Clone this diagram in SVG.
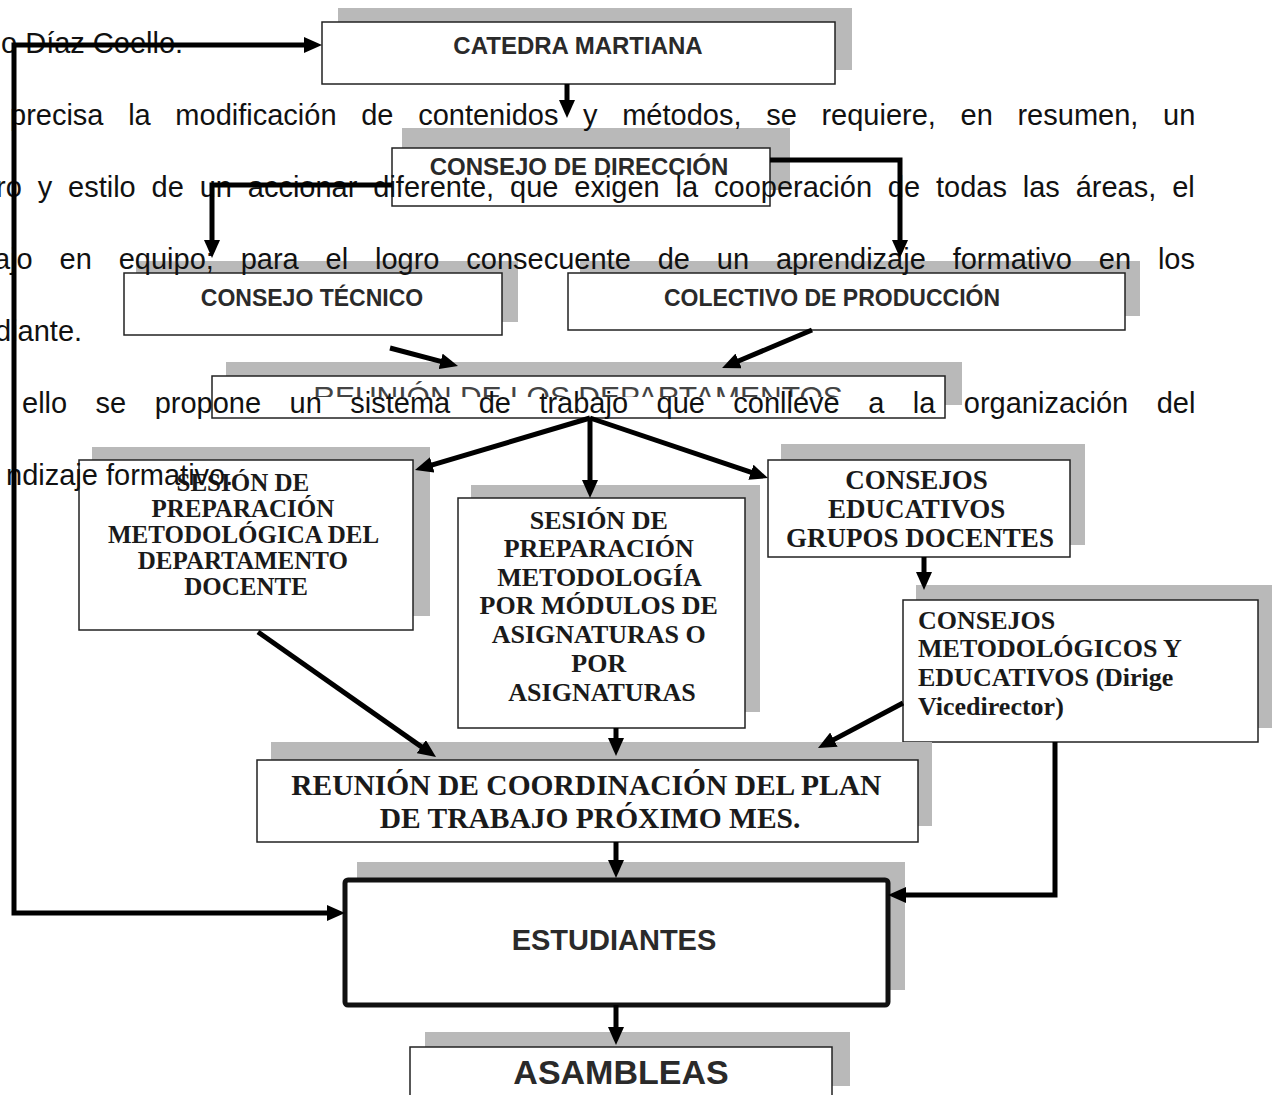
<svg xmlns="http://www.w3.org/2000/svg" width="1275" height="1095" viewBox="0 0 1275 1095">
<style>
.sh{fill:#b9b9b9}
.bx{fill:#fff;stroke:#222;stroke-width:1.5}
.sans{font-family:"Liberation Sans",Arial,sans-serif;font-weight:bold;fill:#2a2a2a;text-anchor:middle}
.serif{font-family:"Liberation Serif","Times New Roman",serif;font-weight:bold;fill:#1a1a1a}
.mid{text-anchor:middle}
.body{font-family:"Liberation Sans",Arial,sans-serif;font-size:29px;fill:#111}
.cn{fill:none;stroke:#000;stroke-width:5;marker-end:url(#ah)}
</style>
<defs>
<marker id="ah" markerUnits="userSpaceOnUse" markerWidth="18" markerHeight="16" refX="6" refY="8" orient="auto-start-reverse">
<path d="M0,0 L18,8 L0,16 z" fill="#000"/>
</marker>
<clipPath id="clipReu"><rect x="200" y="370" width="760" height="27"/></clipPath>
</defs>
<rect width="1275" height="1095" fill="#fff"/>

<g id="catedra">
<rect class="sh" x="338" y="8" width="514" height="62"/>
<rect class="bx" x="322" y="22" width="513" height="62"/>
<text class="sans" x="578" y="54" font-size="24">CATEDRA MARTIANA</text>
</g>
<g id="consejo-direccion">
<rect class="sh" x="402" y="128" width="388" height="62"/>
<rect class="bx" x="392" y="148" width="378" height="58"/>
<text class="sans" x="579" y="175" font-size="24">CONSEJO DE DIRECCIÓN</text>
</g>
<g id="consejo-tecnico">
<rect class="sh" x="136" y="261" width="382" height="61"/>
<rect class="bx" x="124" y="273" width="378" height="62"/>
<text class="sans" x="312" y="306" font-size="23">CONSEJO TÉCNICO</text>
</g>
<g id="colectivo">
<rect class="sh" x="580" y="261" width="560" height="55"/>
<rect class="bx" x="568" y="273" width="557" height="57"/>
<text class="sans" x="832" y="306" font-size="23">COLECTIVO DE PRODUCCIÓN</text>
</g>
<g id="reunion-departamentos">
<rect class="sh" x="226" y="362" width="736" height="43"/>
<rect class="bx" x="212" y="376" width="733" height="42"/>
<text x="578" y="407" font-size="30" clip-path="url(#clipReu)" style="font-family:'Liberation Sans',Arial,sans-serif;fill:#444;text-anchor:middle">REUNIÓN DE LOS DEPARTAMENTOS</text>
</g>
<g id="sesion-departamento">
<rect class="sh" x="92" y="447" width="338" height="169"/>
<rect class="bx" x="79" y="460" width="334" height="170"/>
<text class="serif mid" font-size="25">
<tspan x="246" y="491">SESIÓN DE</tspan>
<tspan x="246" y="517">PREPARACIÓN</tspan>
<tspan x="246" y="543">METODOLÓGICA DEL</tspan>
<tspan x="246" y="569">DEPARTAMENTO</tspan>
<tspan x="246" y="595">DOCENTE</tspan>
</text>
</g>
<g id="sesion-modulos">
<rect class="sh" x="471" y="485" width="289" height="227"/>
<rect class="bx" x="458" y="498" width="287" height="230"/>
<text class="serif mid" font-size="26">
<tspan x="602" y="529">SESIÓN DE</tspan>
<tspan x="602" y="557">PREPARACIÓN</tspan>
<tspan x="602" y="586">METODOLOGÍA</tspan>
<tspan x="602" y="614">POR MÓDULOS DE</tspan>
<tspan x="602" y="643">ASIGNATURAS O</tspan>
<tspan x="602" y="672">POR</tspan>
<tspan x="602" y="701">ASIGNATURAS</tspan>
</text>
</g>
<g id="consejos-educativos">
<rect class="sh" x="781" y="444" width="304" height="101"/>
<rect class="bx" x="768" y="460" width="302" height="97"/>
<text class="serif mid" font-size="27">
<tspan x="920" y="489">CONSEJOS</tspan>
<tspan x="920" y="518">EDUCATIVOS</tspan>
<tspan x="920" y="547">GRUPOS DOCENTES</tspan>
</text>
</g>
<g id="consejos-metodologicos">
<rect class="sh" x="916" y="585" width="356" height="143"/>
<rect class="bx" x="903" y="600" width="355" height="142"/>
<text class="serif" font-size="26">
<tspan x="918" y="629">CONSEJOS</tspan>
<tspan x="918" y="657">METODOLÓGICOS Y</tspan>
<tspan x="918" y="686">EDUCATIVOS (Dirige</tspan>
<tspan x="918" y="715">Vicedirector)</tspan>
</text>
</g>
<g id="reunion-coordinacion">
<rect class="sh" x="271" y="742" width="661" height="84"/>
<rect class="bx" x="257" y="760" width="661" height="82"/>
<text class="serif mid" font-size="29.5">
<tspan x="590" y="795">REUNIÓN DE COORDINACIÓN DEL PLAN</tspan>
<tspan x="590" y="828">DE TRABAJO PRÓXIMO MES.</tspan>
</text>
</g>
<g id="estudiantes">
<rect class="sh" x="357" y="862" width="548" height="128"/>
<rect x="345" y="880" width="543" height="125" fill="#fff" stroke="#111" stroke-width="5" rx="3"/>
<text class="sans" x="614" y="950" font-size="29">ESTUDIANTES</text>
</g>
<g id="asambleas">
<rect class="sh" x="425" y="1032" width="425" height="54"/>
<rect class="bx" x="410" y="1047" width="422" height="60"/>
<text class="sans" x="621" y="1084" font-size="34">ASAMBLEAS</text>
</g>

<g id="body-text" class="body">
<text x="1" y="53">o Díaz Coello.</text>
<text x="10" y="125" word-spacing="16.6">precisa la modificación de contenidos y métodos, se requiere, en resumen, un</text>
<text x="-4" y="197" word-spacing="7.8">ro y estilo de un accionar diferente, que exigen la cooperación de todas las áreas, el</text>
<text x="-6" y="269" word-spacing="18.8">ajo en equipo; para el logro consecuente de un aprendizaje formativo en los</text>
<text x="-5" y="341">diante.</text>
<text x="22" y="413" word-spacing="20.4">ello se propone un sistema de trabajo que conlleve a la organización del</text>
<text x="6" y="485">ndizaje formativo.</text>
</g>

<g id="connectors">
<path class="cn" style="marker-start:url(#ah)" d="M333,913 H14 V45 H310"/>
<path class="cn" d="M567,84 V106"/>
<path class="cn" d="M392,185 H212 V246"/>
<path class="cn" d="M770,160 H900 V246"/>
<path class="cn" d="M390,348 L446.4,362.9"/>
<path class="cn" d="M812,330 L733.1,363.3"/>
<path class="cn" d="M590,418 L426.5,466.6"/>
<path class="cn" d="M590,418 V486"/>
<path class="cn" d="M590,418 L756.6,474.2"/>
<path class="cn" d="M924,557 V578"/>
<path class="cn" d="M258,632 L426.2,750.1"/>
<path class="cn" d="M616,728 V744"/>
<path class="cn" d="M903,703 L828.6,742.4"/>
<path class="cn" d="M616,842 V866"/>
<path class="cn" d="M1055,742 V895 H900"/>
<path class="cn" d="M616,1005 V1033"/>
</g>
</svg>
